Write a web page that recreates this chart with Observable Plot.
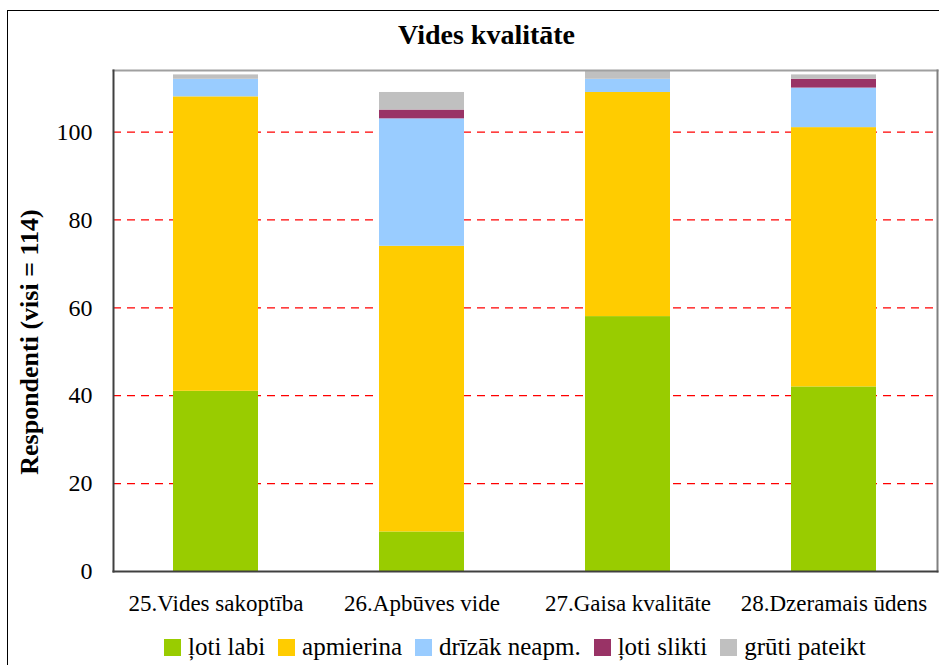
<!DOCTYPE html>
<html>
<head>
<meta charset="utf-8">
<script src="https://cdn.jsdelivr.net/npm/d3@7"></script>
<script src="https://cdn.jsdelivr.net/npm/@observablehq/plot@0.6"></script>
<style>
  html, body { margin: 0; padding: 0; background: #fff; overflow: hidden; }
  #wrap { position: relative; width: 939px; height: 665px; overflow: hidden; font-family: "Liberation Serif", serif; }
  #wrap * { font-family: "Liberation Serif", serif; }
  #chart svg, #chart svg text, #chart svg g { font-family: "Liberation Serif", serif !important; }
  #outer { position: absolute; left: 7px; top: 10px; width: 1000px; height: 1000px; border: 1.5px solid #000; box-sizing: border-box; }
  #title { position: absolute; top: 19px; left: 0; width: 973px; text-align: center; font-weight: bold; font-size: 28px; color: #000; }
  #ylabel { position: absolute; left: 30px; top: 342px; transform: translate(-50%, -50%) rotate(-90deg); white-space: nowrap; font-weight: bold; font-size: 26px; color: #000; }
  #chart { position: absolute; left: 0; top: 0; }
  #legend { position: absolute; top: 633px; left: 164px; display: flex; align-items: center; font-size: 25px; color: #000; white-space: nowrap; }
  .item { display: flex; align-items: center; margin-right: 13px; }
  .sw { width: 17px; height: 17px; margin-right: 7px; }
</style>
</head>
<body>
<div id="wrap">
  <div id="outer"></div>
  <div id="chart"></div>
  <div id="title">Vides kvalitāte</div>
  <div id="ylabel">Respondenti (visi = 114)</div>
  <div id="legend"></div>
</div>
<script>
const categories = ["25.Vides sakoptība", "26.Apbūves vide", "27.Gaisa kvalitāte", "28.Dzeramais ūdens"];
const series = ["ļoti labi", "apmierina", "drīzāk neapm.", "ļoti slikti", "grūti pateikt"];
const colors = ["#99CC00", "#FFCC00", "#99CCFF", "#993366", "#C0C0C0"];
const lotiLabi = [41, 9, 58, 42];
const apmierina = [67, 65, 51, 59];
const drizakNeapm = [4, 29, 3, 9];
const lotiSlikti = [0, 2, 0, 2];
const grutiPateikt = [1, 4, 2, 1];
const yTicks = [0, 20, 40, 60, 80, 100];
const gridTicks = [20, 40, 60, 80, 100];

const seriesValues = [lotiLabi, apmierina, drizakNeapm, lotiSlikti, grutiPateikt];
const data = [];
series.forEach((s, si) => {
  categories.forEach((c, ci) => {
    data.push({cat: c, series: s, value: seriesValues[si][ci]});
  });
});

const font = "'Liberation Serif', serif";
const plot = Plot.plot({
  width: 939,
  height: 625,
  marginLeft: 113,
  marginRight: 2,
  marginTop: 70,
  marginBottom: 54,
  style: {fontFamily: font, background: "transparent", color: "#000"},
  x: {domain: categories, paddingInner: 0.587, paddingOuter: 0.2935, label: null},
  y: {domain: [0, 114], label: null},
  color: {domain: series, range: colors},
  marks: [
    Plot.gridY(gridTicks, {stroke: "#ff0000", strokeOpacity: 1, strokeWidth: 1.2, strokeDasharray: "8,6"}),
    Plot.barY(data, {x: "cat", y: "value", fill: "series", order: series}),
    Plot.frame({anchor: "top", stroke: "#a0a0a0", strokeWidth: 2}),
    Plot.frame({anchor: "right", stroke: "#808080", strokeWidth: 2}),
    Plot.frame({anchor: "left", stroke: "#404040", strokeWidth: 2}),
    Plot.frame({anchor: "bottom", stroke: "#404040", strokeWidth: 2}),
    Plot.axisY(yTicks, {tickSize: 0, tickPadding: 21, fontSize: 24, label: null}),
    Plot.axisX({tickSize: 0, tickPadding: 23, fontSize: 23, label: null, style: {letterSpacing: "0.3px"}})
  ]
});
document.getElementById("chart").appendChild(plot);

const legend = document.getElementById("legend");
series.forEach((s, i) => {
  const item = document.createElement("div");
  item.className = "item";
  const sw = document.createElement("div");
  sw.className = "sw";
  sw.style.background = colors[i];
  const t = document.createElement("span");
  t.textContent = s;
  item.appendChild(sw);
  item.appendChild(t);
  legend.appendChild(item);
});
</script>
</body>
</html>
